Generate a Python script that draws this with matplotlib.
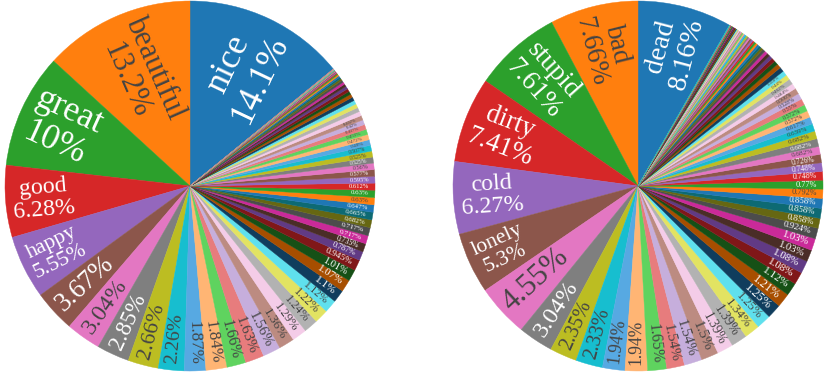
#!/usr/bin/env python3
"""Two word-frequency pies (positive vs negative words), plotly-like look."""
import colorsys

import matplotlib
matplotlib.use("Agg")
import matplotlib.pyplot as plt
import numpy as np
from matplotlib.colors import to_hex, to_rgb

# --- data (percent of all words, sorted) -------------------------------
POS_NAMES = ["nice", "beautiful", "great", "good", "happy"]
POS_PCT = [14.1, 13.2, 10, 6.28, 5.55, 3.67, 3.04, 2.85, 2.66, 2.26,
           1.87, 1.84, 1.66, 1.63, 1.56, 1.36, 1.29, 1.24, 1.22, 1.12,
           1.1, 1.07, 1.01, 0.945, 0.787, 0.735, 0.717, 0.717, 0.682, 0.665,
           0.647, 0.63, 0.63, 0.612, 0.595, 0.577, 0.56, 0.525, 0.525, 0.507,
           0.49, 0.472, 0.455, 0.437, 0.42, 0.402, 0.385, 0.367, 0.35, 0.332,
           0.315, 0.297, 0.28, 0.262, 0.245, 0.227, 0.21, 0.192, 0.175, 0.157,
           0.14, 0.122, 0.105, 0.0875, 0.07, 0.07, 0.0525, 0.0525, 0.035, 0.035,
           0.035, 0.0175, 0.0175, 0.0175, 0.0175, 0.0175]

NEG_NAMES = ["dead", "bad", "stupid", "dirty", "cold", "lonely"]
NEG_PCT = [8.16, 7.66, 7.61, 7.41, 6.27, 5.3, 4.55, 3.04, 2.35, 2.33,
           1.94, 1.94, 1.65, 1.54, 1.54, 1.5, 1.39, 1.39, 1.34, 1.25,
           1.25, 1.21, 1.12, 1.08, 1.08, 1.03, 1.03, 0.924, 0.858, 0.858,
           0.858, 0.792, 0.77, 0.748, 0.748, 0.726, 0.682, 0.682, 0.682, 0.639,
           0.617, 0.572, 0.572, 0.55, 0.528, 0.506, 0.484, 0.462, 0.44, 0.418,
           0.396, 0.374, 0.352, 0.33, 0.308, 0.286, 0.264, 0.242, 0.22, 0.198,
           0.198, 0.176, 0.176, 0.154, 0.154, 0.154, 0.132, 0.132, 0.132, 0.11,
           0.11, 0.11, 0.11, 0.088, 0.088, 0.088, 0.088, 0.066, 0.066, 0.066,
           0.066, 0.066, 0.044, 0.044, 0.044, 0.044, 0.044, 0.044, 0.044, 0.044,
           0.022, 0.022, 0.022, 0.022, 0.022, 0.022, 0.022, 0.022, 0.022, 0.022]

BASE = ["#1f77b4", "#ff7f0e", "#2ca02c", "#d62728", "#9467bd",
        "#8c564b", "#e377c2", "#7f7f7f", "#bcbd22", "#17becf"]
W, H = 830, 377
MAX_PT = 26

plt.rcParams["font.family"] = ["Liberation Serif", "DejaVu Serif"]


def extended_colors(colors):
    # plotly extendpiecolors: base, lighten(20), darken(20)
    out = list(colors)
    for step in (0.2, -0.2):
        for c in colors:
            h, l, s = colorsys.rgb_to_hls(*to_rgb(c))
            out.append(to_hex(colorsys.hls_to_rgb(h, min(1, max(0, l + step)), s)))
    return out


def text_color(c):
    r, g, b = [v * 255 for v in to_rgb(c)]
    return "white" if (r * 299 + g * 587 + b * 114) / 1000 < 128 else "#444444"


PALETTE = extended_colors(BASE)


def draw_pie(ax, renderer, pct, names, cx, cy, radius):
    cols = [PALETTE[i % len(PALETTE)] for i in range(len(pct))]
    start = 90 - pct[0] / sum(pct) * 360
    wedges, _ = ax.pie(pct, colors=cols, startangle=start, counterclock=True,
                       center=(cx, cy), radius=radius,
                       wedgeprops=dict(linewidth=0.3))
    for w, c in zip(wedges, cols):
        w.set_edgecolor(c)

    rp = radius - 6
    for i, (w, v, c) in enumerate(zip(wedges, pct, cols)):
        label = f"{v:.3g}%"
        if i < len(names):
            label = f"{names[i]}\n{label}"
        t = ax.text(0, 0, label, fontsize=10, ha="center", va="center",
                    linespacing=1.1, color=text_color(c))
        bb = t.get_window_extent(renderer)
        a = bb.width / bb.height
        half = np.radians(w.theta2 - w.theta1) / 2
        q = a + 1 / (2 * np.tan(half))
        hfit = rp / np.sqrt(q * q + 0.25)
        rc = hfit * (1 / (2 * np.tan(half)) + a / 2)
        fs = min(MAX_PT, 10 * hfit / bb.height)
        if fs < 3.2:
            t.remove()
            continue
        mid = (w.theta1 + w.theta2) / 2
        rot = mid % 360
        if 90 < rot < 270:
            rot -= 180
        t.set_fontsize(fs)
        t.set_rotation(rot)
        t.set_rotation_mode("anchor")
        t.set_position((cx + rc * np.cos(np.radians(mid)),
                        cy + rc * np.sin(np.radians(mid))))


def main():
    fig = plt.figure(figsize=(W / 100, H / 100), dpi=100)
    ax = fig.add_axes([0, 0, 1, 1])
    renderer = fig.canvas.get_renderer()
    draw_pie(ax, renderer, POS_PCT, POS_NAMES, 190, H - 186, 185)
    draw_pie(ax, renderer, NEG_PCT, NEG_NAMES, 638, H - 186, 185)
    ax.set_xlim(0, W)
    ax.set_ylim(0, H)
    ax.set_aspect("equal")
    ax.axis("off")
    fig.savefig("out.png", dpi=100)


if __name__ == "__main__":
    main()
